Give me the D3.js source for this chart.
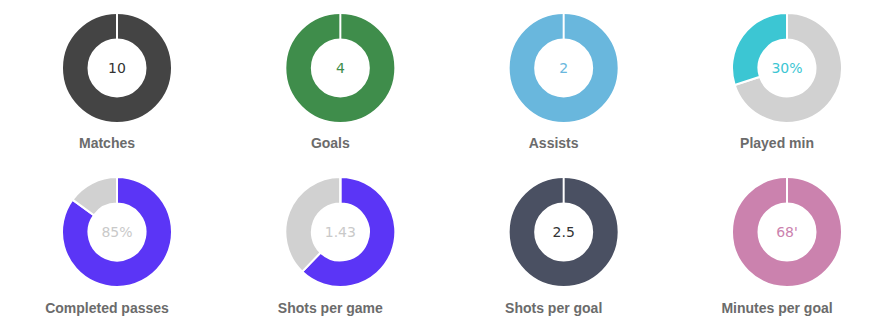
<!DOCTYPE html>
<html>
<head>
<meta charset="utf-8">
<script src="https://cdn.jsdelivr.net/npm/d3@7"></script>
<style>
  body { margin: 0; background: #fff; }
  svg { display: block; }
  .label { font-family: "Liberation Sans", Arial, sans-serif; font-weight: bold; font-size: 14px; fill: #6b6b6b; }
  .value { font-family: "DejaVu Sans", Verdana, sans-serif; font-size: 14px; }
</style>
</head>
<body>
<svg id="chart" width="889" height="331"></svg>
<script>
// stats shown in each donut
var labels = ["Matches", "Goals", "Assists", "Played min",
              "Completed passes", "Shots per game", "Shots per goal", "Minutes per goal"];
var centerText = ["10", "4", "2", "30%", "85%", "1.43", "2.5", "68'"];
// first slice is drawn clockwise from 12 o'clock, second is the rest
var mainValues = [10, 4, 2, 70, 85, 1.43, 2.5, 68];
var restValues = [0, 0, 0, 30, 15, 0.87, 0, 0];
var mainColors = ["#444444", "#3f8d4b", "#69b7dd", "#d1d1d1", "#5b35f6", "#5b35f6", "#4a5062", "#cb82ae"];
var restColors = ["#d1d1d1", "#d1d1d1", "#d1d1d1", "#3cc6d3", "#d1d1d1", "#d1d1d1", "#d1d1d1", "#d1d1d1"];
var textColors = ["#333333", "#3f8d4b", "#69b7dd", "#3cc6d3", "#c9c9c9", "#c9c9c9", "#333333", "#cb82ae"];

var svg = d3.select("#chart");

var x = d3.scalePoint().domain([0, 1, 2, 3]).range([117, 787]);
var y = d3.scalePoint().domain([0, 1]).range([68, 232]);
var labelY = [80, 81];

var outerR = 55, innerR = 28.5;

var arc = d3.arc().innerRadius(innerR).outerRadius(outerR);
var pie = d3.pie().sort(null).value(function(d) { return d.v; });

labels.forEach(function(name, i) {
    var col = i % 4, row = Math.floor(i / 4);
    var g = svg.append("g")
        .attr("transform", "translate(" + x(col) + "," + y(row) + ")");

    var slices = [
        {v: mainValues[i], c: mainColors[i]},
        {v: restValues[i], c: restColors[i]}
    ].filter(function(d) { return d.v > 0; });

    g.selectAll("path")
        .data(pie(slices))
        .enter()
        .append("path")
        .attr("d", arc)
        .attr("fill", function(d) { return d.data.c; })
        .attr("stroke", "#fff")
        .attr("stroke-width", 2);

    // seam at 12 o'clock
    g.append("line")
        .attr("x1", 0).attr("x2", 0)
        .attr("y1", -innerR).attr("y2", -outerR - 1)
        .attr("stroke", "#fff")
        .attr("stroke-width", 2);

    g.append("text")
        .attr("class", "value")
        .attr("text-anchor", "middle")
        .attr("y", 5)
        .attr("fill", textColors[i])
        .text(centerText[i]);

    // labels sit a bit left of the donut centre
    g.append("text")
        .attr("class", "label")
        .attr("text-anchor", "middle")
        .attr("x", -10)
        .attr("y", labelY[row])
        .text(name);
});
</script>
</body>
</html>
